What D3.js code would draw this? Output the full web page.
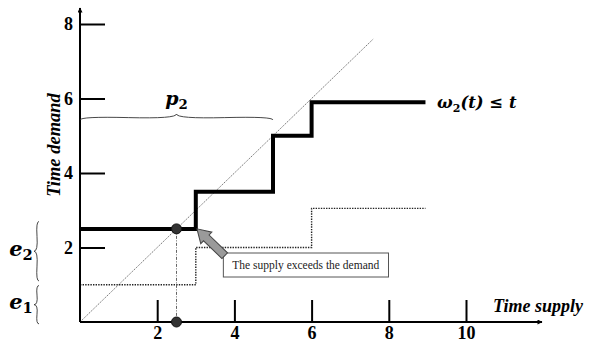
<!DOCTYPE html>
<html>
<head>
<meta charset="utf-8">
<script src="https://cdn.jsdelivr.net/npm/d3@7"></script>
<style>
body { margin: 0; background: #fff; }
svg { display: block; }
.tick line { stroke: #000; stroke-width: 2; }
</style>
</head>
<body>
<script>
// values
var xTicks = [2, 4, 6, 8, 10];
var yTicks = [2, 4, 6, 8];
var demandX = [0, 3, 5, 6, 8.95];
var demandY = [2.5, 3.5, 5, 5.9, 5.9];
var supplyX = [0, 3, 6, 8.95];
var supplyY = [1, 2, 3.05, 3.05];
var diagonalEnd = [7.6, 7.6];
var crossPoint = [2.5, 2.5];
var p2Range = [0, 5];
var e1Range = [-0.05, 0.98];
var e2Range = [1.1, 2.7];
var arrowTip = [3.03, 2.5];
var arrowTail = [3.75, 1.78];
var noteAt = [5.85, 1.53];
var noteText = "The supply exceeds the demand";

var width = 596, height = 342;

var x = d3.scaleLinear().domain([0, 10]).range([80, 466]);
var y = d3.scaleLinear().domain([0, 8]).range([322, 24]);

var serif = '"Liberation Serif", "DejaVu Serif", serif';
var mathFont = '"DejaVu Serif", serif';

var svg = d3.select("body").append("svg")
    .attr("width", width)
    .attr("height", height);

// curly brace between two points, tip bulging to the left of the travel direction
function makeBrace(x1, y1, x2, y2, w, q) {
	var dx = x1 - x2, dy = y1 - y2;
	var len = Math.sqrt(dx * dx + dy * dy);
	dx /= len; dy /= len;
	var qx1 = x1 + q * w * dy, qy1 = y1 - q * w * dx;
	var qx2 = (x1 - .25 * len * dx) + (1 - q) * w * dy, qy2 = (y1 - .25 * len * dy) - (1 - q) * w * dx;
	var tx1 = (x1 - .5 * len * dx) + w * dy, ty1 = (y1 - .5 * len * dy) - w * dx;
	var qx3 = x2 + q * w * dy, qy3 = y2 - q * w * dx;
	var qx4 = (x1 - .75 * len * dx) + (1 - q) * w * dy, qy4 = (y1 - .75 * len * dy) - (1 - q) * w * dx;
	return "M" + x1 + "," + y1 + "Q" + qx1 + "," + qy1 + " " + qx2 + "," + qy2 + "T" + tx1 + "," + ty1 +
		"M" + x2 + "," + y2 + "Q" + qx3 + "," + qy3 + " " + qx4 + "," + qy4 + "T" + tx1 + "," + ty1;
}

var defs = svg.append("defs");
defs.append("marker")
    .attr("id", "arr")
    .attr("viewBox", "0 0 10 10")
    .attr("refX", 9).attr("refY", 5)
    .attr("markerWidth", 7).attr("markerHeight", 5)
    .attr("markerUnits", "userSpaceOnUse")
    .attr("orient", "auto")
  .append("path")
    .attr("d", "M0,0L10,5L0,10z")
    .attr("fill", "#000");

// diagonal y = x
svg.append("line")
    .attr("x1", x(0)).attr("y1", y(0))
    .attr("x2", x(diagonalEnd[0])).attr("y2", y(diagonalEnd[1]))
    .attr("stroke", "#555").attr("stroke-width", 0.8)
    .attr("stroke-dasharray", "1.5,1");

var supplyData = supplyX.map(function(d, i) { return [d, supplyY[i]]; });
var demandData = demandX.map(function(d, i) { return [d, demandY[i]]; });
var step = d3.line()
    .x(function(d) { return x(d[0]); })
    .y(function(d) { return y(d[1]); })
    .curve(d3.curveStepAfter);

// supply step (dotted)
svg.append("path")
    .datum(supplyData)
    .attr("d", step)
    .attr("fill", "none")
    .attr("stroke", "#222")
    .attr("stroke-width", 1.4)
    .attr("stroke-dasharray", "1.4,1.2");

// projection from crossing point down to the axis
svg.append("line")
    .attr("x1", x(crossPoint[0])).attr("y1", y(crossPoint[1]))
    .attr("x2", x(crossPoint[0])).attr("y2", y(0))
    .attr("stroke", "#666").attr("stroke-width", 1)
    .attr("stroke-dasharray", "3,1.5,1,1.5");

// axes
var xAxis = svg.append("g")
    .attr("transform", "translate(0," + y(0) + ")")
    .call(d3.axisBottom(x).tickValues(xTicks).tickSizeInner(-22).tickSizeOuter(0).tickPadding(4));
var yAxis = svg.append("g")
    .attr("transform", "translate(" + x(0) + ",0)")
    .call(d3.axisLeft(y).tickValues(yTicks).tickSizeInner(-25).tickSizeOuter(0).tickPadding(7));
[xAxis, yAxis].forEach(function(g) {
	g.select(".domain").remove();
	g.attr("font-family", serif).attr("font-size", 18).attr("font-weight", "bold");
	g.selectAll(".tick text").attr("fill", "#000");
});

svg.append("line")
    .attr("x1", x(0)).attr("y1", y(0))
    .attr("x2", 542).attr("y2", y(0))
    .attr("stroke", "#000").attr("stroke-width", 2)
    .attr("marker-end", "url(#arr)");
svg.append("line")
    .attr("x1", x(0)).attr("y1", y(0))
    .attr("x2", x(0)).attr("y2", 8)
    .attr("stroke", "#000").attr("stroke-width", 2)
    .attr("marker-end", "url(#arr)");

// demand step (thick)
svg.append("path")
    .datum(demandData)
    .attr("d", step)
    .attr("fill", "none")
    .attr("stroke", "#000")
    .attr("stroke-width", 4);

// dots
svg.selectAll(".dot")
    .data([crossPoint, [crossPoint[0], 0]])
  .enter().append("circle")
    .attr("cx", function(d) { return x(d[0]); })
    .attr("cy", function(d) { return y(d[1]); })
    .attr("r", 5)
    .attr("fill", "#333")
    .attr("stroke", "#111");

// braces
svg.append("path")
    .attr("d", makeBrace(x(p2Range[1]), 120, x(p2Range[0]), 120, 6, 0.6))
    .attr("fill", "none").attr("stroke", "#333").attr("stroke-width", 0.9);
svg.append("path")
    .attr("d", makeBrace(39, y(e2Range[1]), 39, y(e2Range[0]), 5, 0.6))
    .attr("fill", "none").attr("stroke", "#333").attr("stroke-width", 0.9);
svg.append("path")
    .attr("d", makeBrace(39, y(e1Range[1]), 39, y(e1Range[0]), 5, 0.6))
    .attr("fill", "none").attr("stroke", "#333").attr("stroke-width", 0.9);

// math labels with subscript
function subLabel(px, py, base, sub, size) {
	var t = svg.append("text")
	    .attr("x", px).attr("y", py)
	    .attr("text-anchor", "middle")
	    .attr("font-family", mathFont)
	    .attr("font-weight", "bold")
	    .attr("font-style", "italic")
	    .attr("font-size", size);
	t.append("tspan").text(base);
	t.append("tspan").attr("font-size", size * 0.7).attr("dy", size * 0.2).attr("font-style", "normal").text(sub);
	return t;
}
subLabel(x((p2Range[0] + p2Range[1]) / 2), 105, "p", "2", 19);
subLabel(21, y((e2Range[0] + e2Range[1]) / 2) + 5, "e", "2", 21);
subLabel(21, y((e1Range[0] + e1Range[1]) / 2) + 4, "e", "1", 21);

var omega = svg.append("text")
    .attr("x", 437).attr("y", y(demandY[4]) + 6)
    .attr("font-family", mathFont)
    .attr("font-weight", "bold")
    .attr("font-style", "italic")
    .attr("font-size", 16.5);
omega.append("tspan").text("\u03c9");
omega.append("tspan").attr("font-size", 11).attr("dy", 4).attr("font-style", "normal").text("2");
omega.append("tspan").attr("dy", -4).text("(t) \u2264 t");

svg.append("text")
    .attr("transform", "translate(60,145) rotate(-90)")
    .attr("text-anchor", "middle")
    .attr("font-family", serif)
    .attr("font-weight", "bold")
    .attr("font-style", "italic")
    .attr("font-size", 18.5)
    .text("Time demand");

svg.append("text")
    .attr("x", 538).attr("y", 312)
    .attr("text-anchor", "middle")
    .attr("font-family", serif)
    .attr("font-weight", "bold")
    .attr("font-style", "italic")
    .attr("font-size", 18)
    .text("Time supply");

// annotation box
var note = svg.append("g");
var noteLabel = note.append("text")
    .attr("x", x(noteAt[0])).attr("y", y(noteAt[1]) + 4)
    .attr("text-anchor", "middle")
    .attr("font-family", serif)
    .attr("font-size", 11.5)
    .attr("fill", "#222")
    .text(noteText);
var bb = noteLabel.node().getBBox();
note.insert("rect", "text")
    .attr("x", bb.x - 9).attr("y", bb.y - 6)
    .attr("width", bb.width + 18).attr("height", bb.height + 11)
    .attr("fill", "#fff")
    .attr("stroke", "#555")
    .attr("stroke-width", 1);

// block arrow
var tx = x(arrowTip[0]), ty = y(arrowTip[1]);
var sx = x(arrowTail[0]), sy = y(arrowTail[1]);
var ang = Math.atan2(ty - sy, tx - sx);
var len = Math.sqrt((tx - sx) * (tx - sx) + (ty - sy) * (ty - sy));
var headLen = 13, headW = 8, shaftW = 4;
var pts = [[0, -shaftW], [len - headLen, -shaftW], [len - headLen, -headW], [len, 0],
	[len - headLen, headW], [len - headLen, shaftW], [0, shaftW]];
svg.append("polygon")
    .attr("points", pts.map(function(p) { return p.join(","); }).join(" "))
    .attr("transform", "translate(" + sx + "," + sy + ") rotate(" + (ang * 180 / Math.PI) + ")")
    .attr("fill", "#9a9a9a")
    .attr("stroke", "#444")
    .attr("stroke-width", 1);
</script>
</body>
</html>
